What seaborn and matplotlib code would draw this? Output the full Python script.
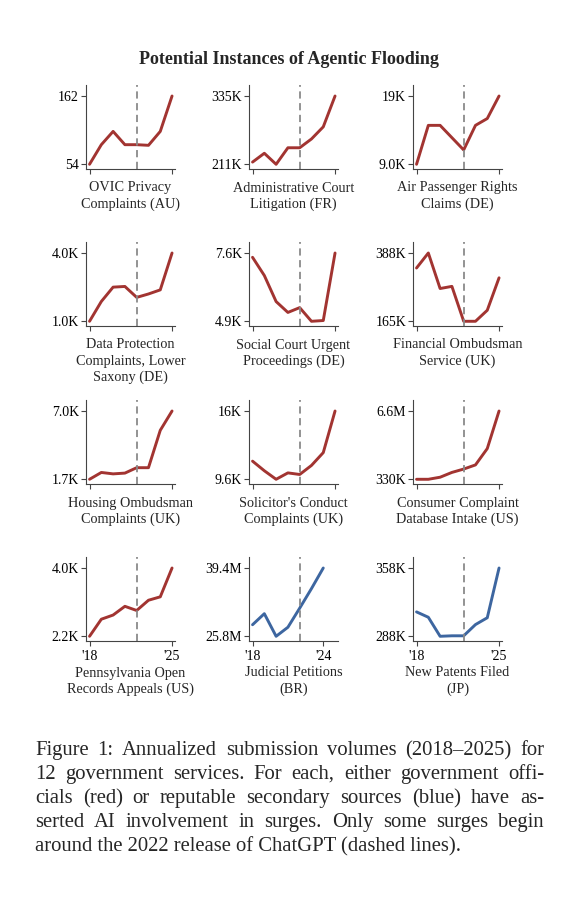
import pandas as pd
import seaborn as sns
import matplotlib.pyplot as plt

# values (one point per year)
years = [2018, 2019, 2020, 2021, 2022, 2023, 2024, 2025]
years_br = [2018, 2019, 2020, 2021, 2022, 2023, 2024]

ovic_au = [54, 85, 106, 85, 85, 84, 106, 162]
admin_court_fr = [215e3, 231e3, 211e3, 241e3, 241e3, 257e3, 279e3, 335e3]
air_passenger_de = [9.0e3, 14.7e3, 14.7e3, 12.9e3, 11.1e3, 14.7e3, 15.7e3, 19.0e3]
data_protection_de = [1.0e3, 1.87e3, 2.5e3, 2.53e3, 2.05e3, 2.2e3, 2.38e3, 4.0e3]
social_court_de = [7.43e3, 6.71e3, 5.68e3, 5.25e3, 5.44e3, 4.9e3, 4.93e3, 7.6e3]
financial_ombudsman_uk = [339e3, 388e3, 272e3, 279e3, 165e3, 165e3, 201e3, 307e3]
housing_ombudsman_uk = [1.7e3, 2.23e3, 2.12e3, 2.18e3, 2.6e3, 2.6e3, 5.5e3, 7.0e3]
solicitors_uk = [11.3e3, 10.4e3, 9.6e3, 10.2e3, 10.05e3, 10.9e3, 12.1e3, 16.0e3]
consumer_complaint_us = [0.33e6, 0.33e6, 0.52e6, 0.96e6, 1.27e6, 1.65e6, 3.15e6, 6.6e6]
pennsylvania_us = [2.2e3, 2.65e3, 2.76e3, 2.99e3, 2.88e3, 3.15e3, 3.24e3, 4.0e3]
judicial_br = [28.1e6, 30.3e6, 25.8e6, 27.6e6, 31.4e6, 35.3e6, 39.4e6]
patents_jp = [313e3, 307.5e3, 288e3, 288.5e3, 288.5e3, 300e3, 307e3, 358e3]

panel_names = [
    "OVIC Privacy\nComplaints (AU)",
    "Administrative Court\nLitigation (FR)",
    "Air Passenger Rights\nClaims (DE)",
    "Data Protection\nComplaints, Lower\nSaxony (DE)",
    "Social Court Urgent\nProceedings (DE)",
    "Financial Ombudsman\nService (UK)",
    "Housing Ombudsman\nComplaints (UK)",
    "Solicitor's Conduct\nComplaints (UK)",
    "Consumer Complaint\nDatabase Intake (US)",
    "Pennsylvania Open\nRecords Appeals (US)",
    "Judicial Petitions\n(BR)",
    "New Patents Filed\n(JP)",
]
panel_values = [ovic_au, admin_court_fr, air_passenger_de, data_protection_de,
                social_court_de, financial_ombudsman_uk, housing_ombudsman_uk,
                solicitors_uk, consumer_complaint_us, pennsylvania_us,
                judicial_br, patents_jp]
panel_years = [years] * 10 + [years_br, years]
source = ["official"] * 10 + ["secondary"] * 2
low_labels = ["54", "211K", "9.0K", "1.0K", "4.9K", "165K",
              "1.7K", "9.6K", "330K", "2.2K", "25.8M", "288K"]
high_labels = ["162", "335K", "19K", "4.0K", "7.6K", "388K",
               "7.0K", "16K", "6.6M", "4.0K", "39.4M", "358K"]

palette = {"official": "#a23431", "secondary": "#3d66a0"}
chatgpt_year = 2022

sns.set_theme(style="ticks")
plt.rcParams['font.family'] = ['Liberation Serif', 'DejaVu Serif']
plt.rcParams['axes.edgecolor'] = '#444444'
plt.rcParams['xtick.color'] = '#444444'
plt.rcParams['ytick.color'] = '#444444'
plt.rcParams['xtick.labelcolor'] = 'black'
plt.rcParams['ytick.labelcolor'] = 'black'

W, H = 568, 908
fig = plt.figure(figsize=(W / 100, H / 100), dpi=100)

col_x = [86, 249, 413]
row_top = [85, 242, 400, 557]
ax_w, ax_h = 89, 84

for i, name in enumerate(panel_names):
    r, c = divmod(i, 3)
    ax = fig.add_axes([col_x[c] / W, 1 - (row_top[r] + ax_h) / H, ax_w / W, ax_h / H])
    df = pd.DataFrame({"year": panel_years[i], "value": panel_values[i]})
    sns.lineplot(data=df, x="year", y="value", ax=ax,
                 color=palette[source[i]], linewidth=2.1)
    ax.axvline(chatgpt_year, color="#8a8a8a", linewidth=1.3, linestyle=(0, (4, 2.5)))

    lo, hi = df["value"].min(), df["value"].max()
    span = hi - lo
    ax.set_ylim(lo - 0.069 * span, hi + 0.161 * span)
    ax.set_xlim(2017.7, 2025.25)
    ax.set_yticks([lo, hi])
    ax.set_yticklabels([low_labels[i], high_labels[i]])
    last = panel_years[i][-1]
    ax.set_xticks([2018, last])
    if r == 3:
        ax.set_xticklabels(["'18", "'" + str(last)[2:]])
    else:
        ax.set_xticklabels(["", ""])
    ax.tick_params(labelsize=10, length=3.5, width=0.8, pad=1.5)
    ax.tick_params(axis="x", pad=3)
    for side in ["left", "bottom"]:
        ax.spines[side].set_linewidth(0.8)
    sns.despine(ax=ax)
    ax.set_ylabel("")
    ax.set_xlabel(name, fontsize=10.3, labelpad=2.5, linespacing=1.3)

fig.text(0.508, 1 - 60 / H, "Potential Instances of Agentic Flooding",
         ha="center", va="center", fontsize=13, fontweight="bold")

# caption, justified line by line
caption_lines = [
    "Figure 1: Annualized submission volumes (2018\u20132025) for",
    "12 government services. For each, either government offi-",
    "cials (red) or reputable secondary sources (blue) have as-",
    "serted AI involvement in surges. Only some surges begin",
    "around the 2022 release of ChatGPT (dashed lines).",
]
cap_size = 14.9
renderer = fig.canvas.get_renderer()
x0, x1 = 35 / W, 544 / W
for k, line in enumerate(caption_lines):
    y = 1 - (755 + 24 * k) / H
    if k == len(caption_lines) - 1:
        fig.text(x0, y, line, fontsize=cap_size, va="baseline")
        continue
    words = line.split()
    objs = [fig.text(0, y, w, fontsize=cap_size, va="baseline") for w in words]
    widths = [o.get_window_extent(renderer).width / W for o in objs]
    gap = (x1 - x0 - sum(widths)) / (len(words) - 1)
    x = x0
    for o, w in zip(objs, widths):
        o.set_x(x)
        x += w + gap

plt.savefig("out.png", dpi=100)
